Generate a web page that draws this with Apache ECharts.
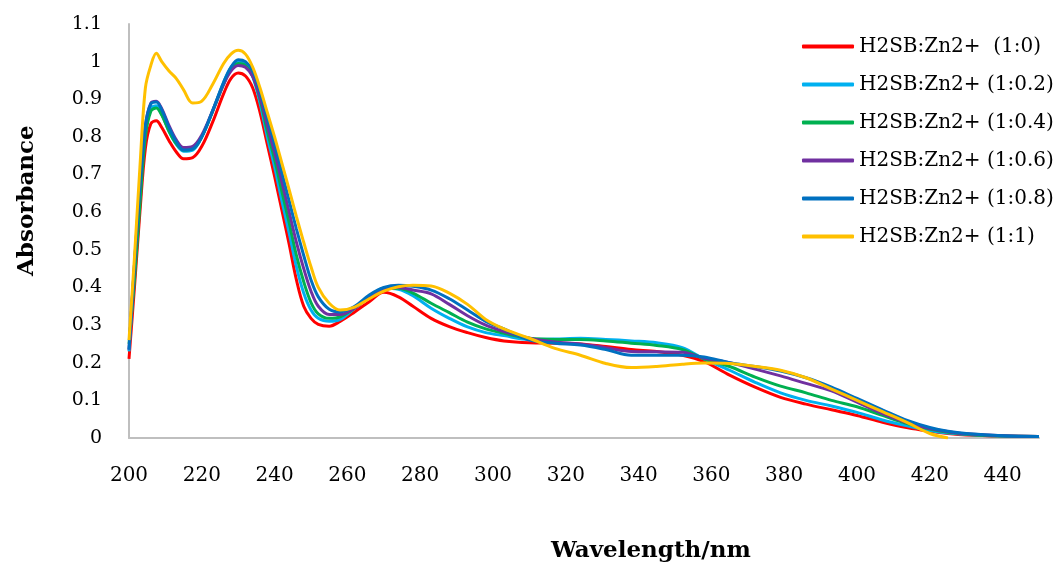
<!DOCTYPE html>
<html>
<head>
<meta charset="utf-8">
<script src="https://cdn.jsdelivr.net/npm/echarts@6/dist/echarts.min.js"></script>
<style>
html,body{margin:0;padding:0;background:#fff;}
#c{width:1059px;height:566px;}
</style>
</head>
<body>
<div id="c"></div>
<script>
const wavelengths = [200,201.5,203,204.5,206,207.5,209,211,213,215,217.5,220,223,226,228,230,232,234,236,238,240,242,244,246,248,250,252,255,258,262,266,270,274,278,283,288,293,298,303,310,317,324,331,338,345,352,358,365,372,379,386,393,400,407,414,420,425,430,440,450];

const seriesNames = ['H2SB:Zn2+  (1:0)','H2SB:Zn2+ (1:0.2)','H2SB:Zn2+ (1:0.4)','H2SB:Zn2+ (1:0.6)','H2SB:Zn2+ (1:0.8)','H2SB:Zn2+ (1:1)'];

const ratio_1_0 = [0.21,0.40,0.60,0.77,0.835,0.843,0.825,0.79,0.76,0.742,
  0.745,0.775,0.84,0.915,0.955,0.97,0.962,0.93,0.865,0.78,
  0.695,0.605,0.515,0.42,0.35,0.318,0.302,0.297,0.31,0.335,
  0.362,0.387,0.375,0.35,0.318,0.296,0.28,0.267,0.258,0.253,
  0.252,0.25,0.243,0.235,0.23,0.22,0.203,0.167,0.135,0.108,
  0.09,0.075,0.06,0.042,0.027,0.018,0.012,0.008,0.005,0.004];

const ratio_1_02 = [0.23,0.45,0.65,0.81,0.875,0.883,0.86,0.815,0.78,0.762,
  0.765,0.8,0.87,0.945,0.985,1.0,0.993,0.96,0.89,0.8,
  0.72,0.63,0.545,0.455,0.385,0.34,0.318,0.31,0.315,0.345,
  0.375,0.398,0.395,0.378,0.345,0.318,0.295,0.28,0.272,0.262,
  0.263,0.265,0.262,0.258,0.253,0.24,0.21,0.18,0.148,0.12,
  0.1,0.085,0.068,0.048,0.032,0.02,0.013,0.009,0.005,0.004];

const ratio_1_04 = [0.25,0.42,0.62,0.80,0.868,0.877,0.858,0.815,0.782,0.765,
  0.768,0.8,0.868,0.94,0.98,0.995,0.99,0.962,0.9,0.815,
  0.74,0.655,0.572,0.485,0.415,0.36,0.33,0.318,0.322,0.345,
  0.375,0.395,0.398,0.385,0.358,0.333,0.308,0.29,0.278,0.265,
  0.262,0.262,0.258,0.252,0.246,0.235,0.21,0.19,0.162,0.138,
  0.12,0.1,0.083,0.06,0.038,0.024,0.015,0.01,0.005,0.004];

const ratio_1_06 = [0.235,0.46,0.67,0.83,0.89,0.895,0.875,0.83,0.792,0.772,
  0.775,0.805,0.87,0.94,0.975,0.99,0.985,0.96,0.905,0.83,
  0.758,0.68,0.6,0.52,0.45,0.39,0.35,0.328,0.328,0.345,
  0.375,0.395,0.4,0.393,0.383,0.355,0.325,0.3,0.283,0.265,
  0.255,0.25,0.24,0.23,0.229,0.228,0.212,0.2,0.183,0.165,
  0.145,0.125,0.095,0.065,0.04,0.025,0.017,0.011,0.006,0.004];

const ratio_1_08 = [0.235,0.46,0.67,0.83,0.888,0.893,0.872,0.825,0.787,0.765,
  0.768,0.8,0.87,0.945,0.985,1.005,1.0,0.975,0.92,0.85,
  0.78,0.705,0.63,0.555,0.485,0.42,0.375,0.342,0.335,0.35,
  0.38,0.4,0.406,0.403,0.393,0.37,0.34,0.31,0.29,0.26,
  0.252,0.247,0.235,0.22,0.22,0.22,0.215,0.2,0.19,0.178,
  0.16,0.135,0.105,0.075,0.046,0.028,0.018,0.012,0.006,0.004];

const ratio_1_1 = [0.26,0.48,0.72,0.93,0.99,1.022,1.0,0.975,0.955,0.925,
  0.89,0.895,0.94,0.995,1.02,1.03,1.02,0.985,0.93,0.865,
  0.8,0.73,0.66,0.588,0.52,0.455,0.40,0.358,0.34,0.348,
  0.37,0.39,0.402,0.406,0.404,0.385,0.355,0.315,0.29,0.265,
  0.238,0.22,0.198,0.187,0.19,0.196,0.199,0.198,0.19,0.18,
  0.16,0.13,0.1,0.07,0.04,0.012,0.0,null,null,null];

const colors = ['#FF0000','#00B0F0','#00B050','#7030A0','#0070C0','#FFC000'];
const allValues = [ratio_1_0, ratio_1_02, ratio_1_04, ratio_1_06, ratio_1_08, ratio_1_1];

const FONT = 'DejaVu Serif';

const chart = echarts.init(document.getElementById('c'), null, {renderer:'canvas'});
chart.setOption({
  backgroundColor:'#fff',
  animation:false,
  color: colors,
  grid:{left:129, right:20, top:24, bottom:128, containLabel:false},
  xAxis:{
    type:'value', min:200, max:450, interval:20,
    axisLine:{show:true, lineStyle:{color:'#BFBFBF', width:2}},
    axisTick:{show:false},
    splitLine:{show:false},
    axisLabel:{showMaxLabel:false, margin:28, color:'#000', fontFamily:FONT, fontSize:20}
  },
  yAxis:{
    type:'value', min:0, max:1.1, interval:0.1,
    axisLine:{show:true, lineStyle:{color:'#BFBFBF', width:2}},
    axisTick:{show:false},
    splitLine:{show:false},
    axisLabel:{margin:27, color:'#000', fontFamily:FONT, fontSize:19,
      formatter:v=>String(Math.round(v*10)/10)}
  },
  legend:{
    orient:'vertical', left:797, top:31,
    itemWidth:52, itemHeight:4, itemGap:17, icon:'roundRect',
    textStyle:{fontFamily:FONT, fontSize:20, color:'#000', lineHeight:21},
    data: seriesNames
  },
  graphic:[
    {type:'text', left:551, top:540, style:{text:'Wavelength/nm', font:'bold 23px "DejaVu Serif"', fill:'#000'}},
    {type:'text', x:16, y:276, rotation:Math.PI/2, style:{text:'Absorbance', font:'bold 23px "DejaVu Serif"', fill:'#000'}}
  ],
  series: seriesNames.map((n,i)=>({
    name:n, type:'line', smooth:0.35, showSymbol:false, symbol:'none',
    connectNulls:false,
    lineStyle:{width:3, color:colors[i]},
    itemStyle:{color:colors[i]},
    data: wavelengths.map((w,j)=>[w, allValues[i][j]]).filter(p=>p[1]!==null)
  }))
});
</script>
</body>
</html>
